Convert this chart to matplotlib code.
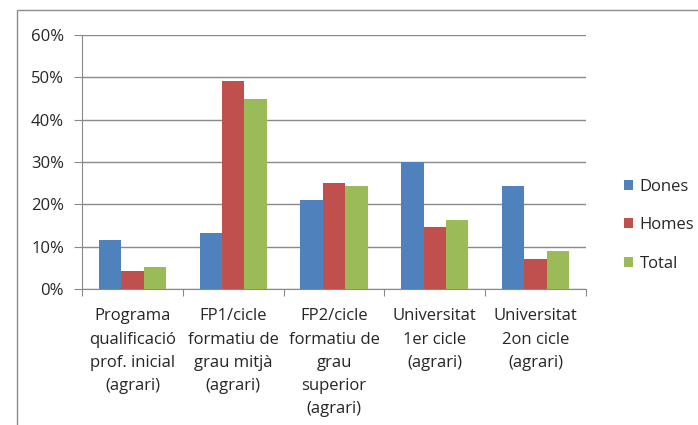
import numpy as np
import matplotlib
matplotlib.use("Agg")
import matplotlib.pyplot as plt
from matplotlib.patches import Rectangle

plt.rcParams['font.family'] = ['Open Sans', 'DejaVu Sans']

categories = [
    "Programa\nqualificació\nprof. inicial\n(agrari)",
    "FP1/cicle\nformatiu de\ngrau mitjà\n(agrari)",
    "FP2/cicle\nformatiu de\ngrau\nsuperior\n(agrari)",
    "Universitat\n1er cicle\n(agrari)",
    "Universitat\n2on cicle\n(agrari)",
]
series_names = ["Dones", "Homes", "Total"]
dones = [11.6, 13.3, 21.0, 30.1, 24.4]
homes = [4.3, 49.1, 25.0, 14.7, 7.0]
total = [5.1, 44.9, 24.4, 16.3, 9.0]
yticks = [0, 10, 20, 30, 40, 50, 60]
colors = ["#4F81BD", "#C0504D", "#9BBB59"]
text_color = "#262626"
axis_color = "#8a8a8a"
fs = 12

fig = plt.figure(figsize=(6.98, 4.25), dpi=100)
fig.patch.set_facecolor("white")

# outer chart frame (runs past the right/bottom edges)
fig.patches.append(Rectangle((17 / 698, -0.1), 1.2, 1 - 10 / 425 + 0.1,
                             transform=fig.transFigure, fill=False,
                             edgecolor="#8c8c8c", linewidth=1.0))

ax = fig.add_axes([82 / 698, 1 - 289 / 425, (586 - 82) / 698, (289 - 35) / 425])

n = len(categories)
x = np.arange(n)
w = 1 / 4.5
for i, (vals, c, name) in enumerate(zip([dones, homes, total], colors, series_names)):
    ax.bar(x + (i - 1) * w, vals, width=w, color=c, label=name, zorder=3)

ax.set_xlim(-0.5, n - 0.5)
ax.set_ylim(0, 60)
ax.set_yticks(yticks)
ax.set_yticklabels([f"{v}%" for v in yticks], fontsize=fs, color=text_color)
ax.yaxis.grid(True, color=axis_color, linewidth=1.0, zorder=0)
ax.tick_params(axis="y", length=6, color=axis_color, pad=7)

# major ticks at category boundaries, labels at category centres
ax.set_xticks(np.arange(n + 1) - 0.5)
ax.set_xticklabels([])
ax.tick_params(axis="x", which="major", length=5, color=axis_color, direction="out")
ax.set_xticks(x, minor=True)
ax.set_xticklabels(categories, minor=True, fontsize=fs, color=text_color,
                   linespacing=1.6, va="top")
ax.tick_params(axis="x", which="minor", length=0, pad=14)

for side in ["top", "right"]:
    ax.spines[side].set_visible(False)
ax.spines["left"].set_color(axis_color)
ax.spines["bottom"].set_color(axis_color)

leg = fig.legend(loc="upper left", bbox_to_anchor=(617 / 698, 1 - 172 / 425),
                 frameon=False, fontsize=fs, handlelength=0.55, handleheight=0.55,
                 handletextpad=0.4, labelspacing=1.35, borderaxespad=0)
for t in leg.get_texts():
    t.set_color(text_color)

fig.savefig("out.png", dpi=100, facecolor="white")
